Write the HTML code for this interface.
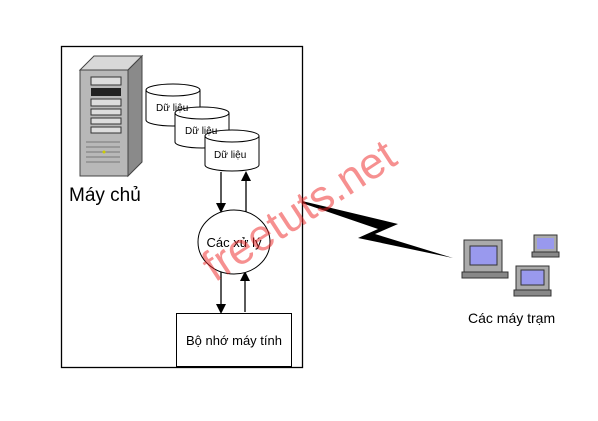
<!DOCTYPE html>
<html><head><meta charset="utf-8"><style>
body{margin:0;background:#fff;width:598px;height:416px;overflow:hidden;font-family:"Liberation Sans","DejaVu Sans",sans-serif}
</style></head><body>
<svg width="598" height="416" xmlns="http://www.w3.org/2000/svg" font-family="Liberation Sans, DejaVu Sans, sans-serif">
<rect x="61.5" y="46.5" width="241" height="321" fill="#fff" stroke="#000" stroke-width="1.3"/>
<polygon points="80,70 94,56 142,56 128,70" fill="#d8d8d8" stroke="#444"/>
<polygon points="128,70 142,56 142,162 128,176" fill="#8a8a8a" stroke="#444"/>
<rect x="80" y="70" width="48" height="106" fill="#b8b8b8" stroke="#444"/>
<rect x="91" y="77" width="30" height="8" fill="#ddd" stroke="#333"/>
<rect x="91" y="88" width="30" height="8" fill="#222"/>
<rect x="91" y="99" width="30" height="7" fill="#ddd" stroke="#333"/>
<rect x="91" y="109" width="30" height="6" fill="#ddd" stroke="#333"/>
<rect x="91" y="118" width="30" height="6" fill="#ddd" stroke="#333"/>
<rect x="91" y="127" width="30" height="6" fill="#ddd" stroke="#333"/>
<g stroke="#777"><line x1="86" y1="142" x2="120" y2="142"/><line x1="86" y1="147" x2="120" y2="147"/><line x1="86" y1="152" x2="120" y2="152"/><line x1="86" y1="157" x2="120" y2="157"/><line x1="86" y1="162" x2="120" y2="162"/></g>
<circle cx="104" cy="152" r="1.5" fill="#cc0"/>
<text x="69" y="201" font-size="19">Máy chủ</text>
<g stroke="#000" fill="#fff" stroke-width="1">
<path d="M146,90 V120 A27,6 0 0 0 200,120 V90"/><ellipse cx="173" cy="90" rx="27" ry="6"/>
<path d="M175,113 V142 A27,6 0 0 0 229,142 V113"/><ellipse cx="202" cy="113" rx="27" ry="6"/>
<path d="M205,136 V165 A27,6 0 0 0 259,165 V136"/><ellipse cx="232" cy="136" rx="27" ry="6"/>
</g>
<text x="156" y="111" font-size="10">Dữ liệu</text>
<text x="185" y="134" font-size="10">Dữ liệu</text>
<text x="214" y="158" font-size="10">Dữ liệu</text>
<g stroke="#000" stroke-width="1.3">
<line x1="221" y1="172" x2="221" y2="205"/><line x1="246" y1="180" x2="246" y2="212"/>
<line x1="221" y1="272" x2="221" y2="306"/><line x1="245" y1="280" x2="245" y2="312"/>
</g>
<polygon points="216,203 226,203 221,213" fill="#000"/>
<polygon points="241,181 251,181 246,171" fill="#000"/>
<polygon points="216,304 226,304 221,314" fill="#000"/>
<polygon points="240,281 250,281 245,271" fill="#000"/>
<ellipse cx="234" cy="242" rx="36" ry="32" fill="#fff" stroke="#000"/>
<text x="234" y="247" font-size="13" text-anchor="middle">Các xử lý</text>
<rect x="176.5" y="313.5" width="115" height="53" fill="#fff" stroke="#000"/>
<text x="234" y="345" font-size="13" text-anchor="middle">Bộ nhớ máy tính</text>
<polygon points="302,201 398,224 375,234 453,258 358,238 378,229 302,203" fill="#000"/>
<g>
<rect x="464" y="240" width="38" height="32" fill="#aaa" stroke="#333"/>
<rect x="470" y="246" width="27" height="19" fill="#9999ee" stroke="#333"/>
<rect x="462" y="272" width="46" height="6" fill="#888" stroke="#333"/>
<rect x="534" y="235" width="23" height="17" fill="#aaa" stroke="#333"/>
<rect x="537" y="238" width="17" height="11" fill="#9999ee"/>
<rect x="532" y="252" width="27" height="5" fill="#888" stroke="#333"/>
<rect x="516" y="266" width="33" height="24" fill="#aaa" stroke="#333"/>
<rect x="521" y="270" width="23" height="15" fill="#9999ee" stroke="#333"/>
<rect x="514" y="290" width="37" height="6" fill="#888" stroke="#333"/>
</g>
<text x="468" y="323" font-size="14">Các máy trạm</text>
<text x="300" y="225" font-size="44" fill="#e22" fill-opacity="0.5" text-anchor="middle" transform="rotate(-33 300 212)">freetuts.net</text>
</svg>
</body></html>
